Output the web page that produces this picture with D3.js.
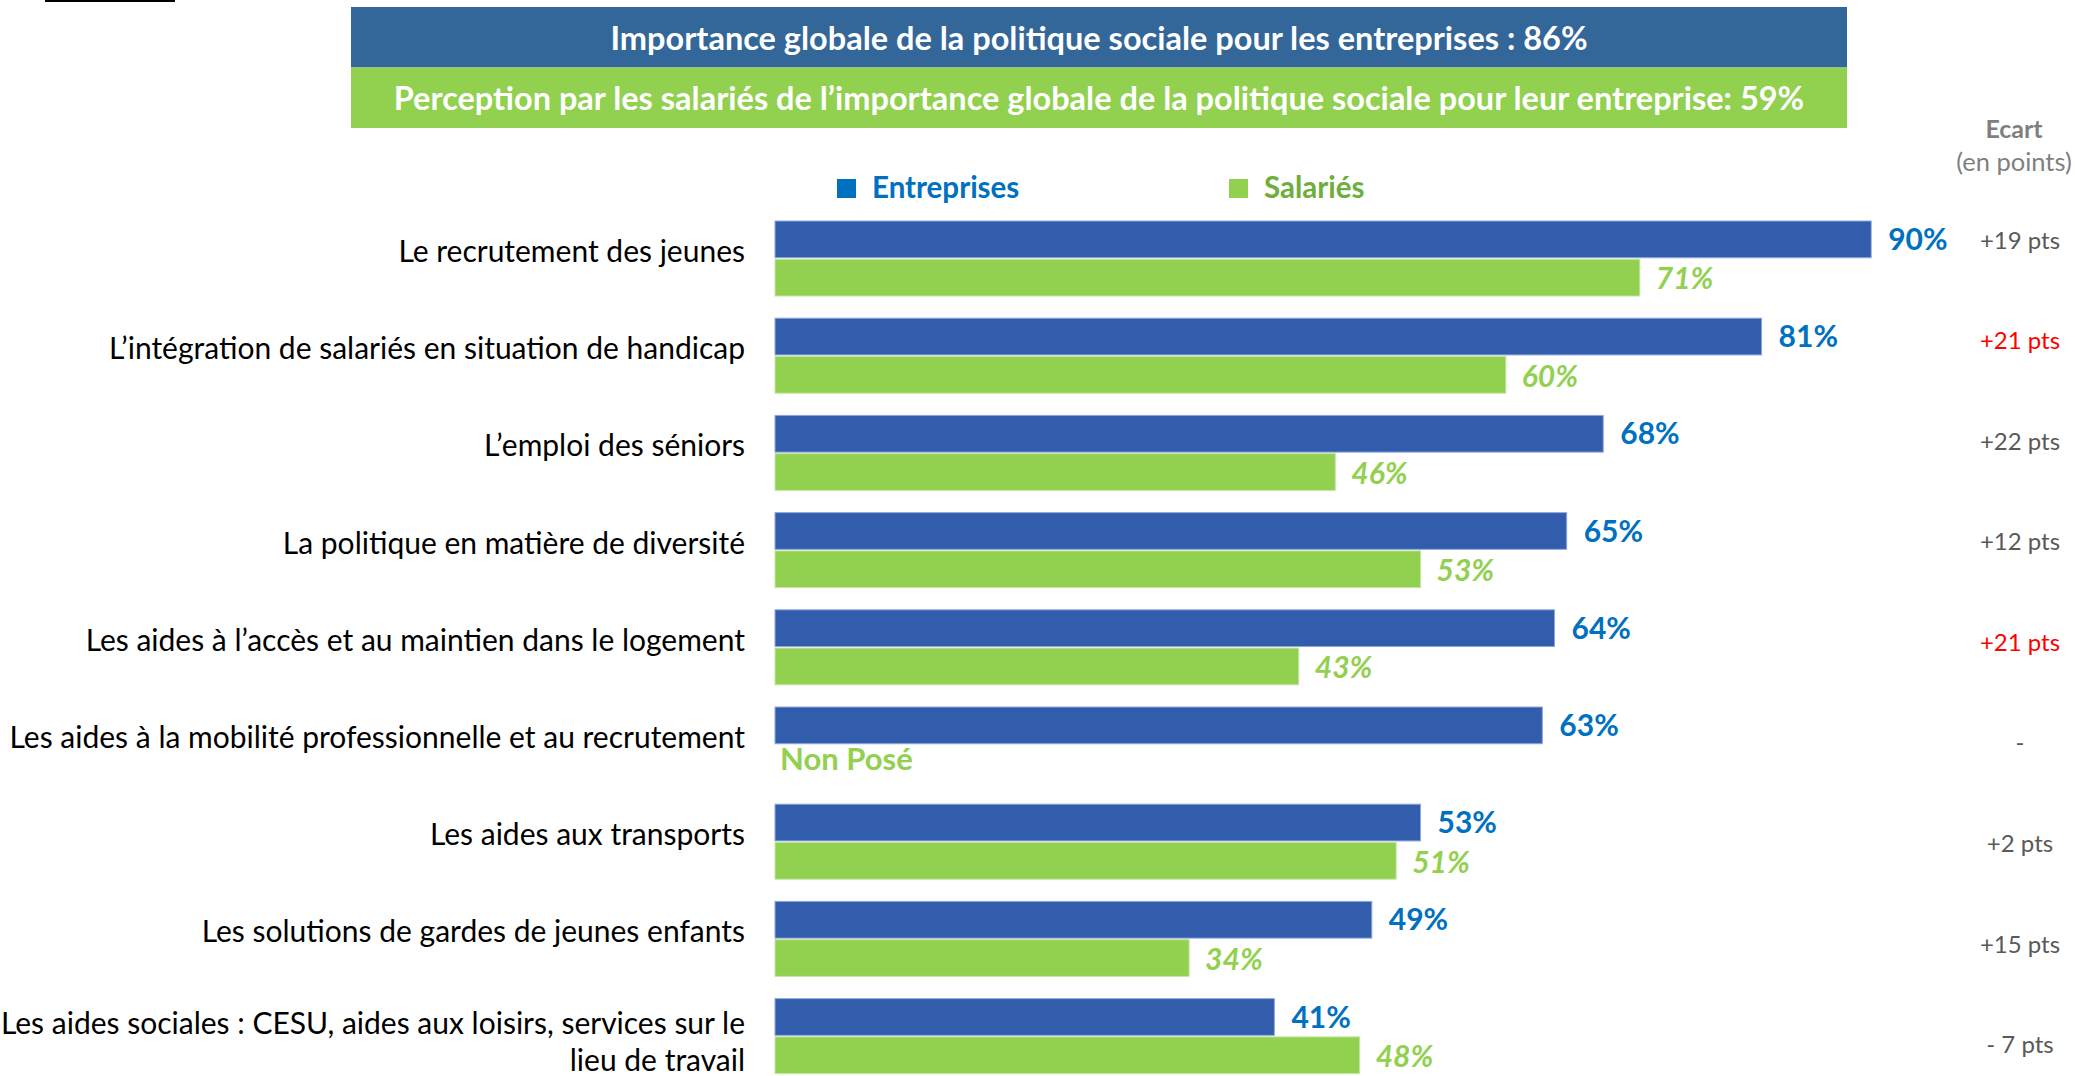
<!DOCTYPE html>
<html><head><meta charset="utf-8">
<script src="https://cdn.jsdelivr.net/npm/d3@7"></script>
<style>body{margin:0;background:#fff}svg{display:block}text{font-family:Lato,"Noto Sans",sans-serif}</style>
</head><body><svg id="c" width="2075" height="1076"></svg>
<script>
const categories = [
  "Le recrutement des jeunes",
  "L\u2019intégration de salariés en situation de handicap",
  "L\u2019emploi des séniors",
  "La politique en matière de diversité",
  "Les aides à l\u2019accès et au maintien dans le logement",
  "Les aides à la mobilité professionnelle et au recrutement",
  "Les aides aux transports",
  "Les solutions de gardes de jeunes enfants",
  "Les aides sociales : CESU, aides aux loisirs, services sur le\nlieu de travail"
];
const entreprises = [90, 81, 68, 65, 64, 63, 53, 49, 41];
const salaries = [71, 60, 46, 53, 43, null, 51, 34, 48];
const ecartLabels = ["+19 pts", "+21 pts", "+22 pts", "+12 pts", "+21 pts", "-", "+2 pts", "+15 pts", "- 7 pts"];
const ecartHighlight = [false, true, false, false, true, false, false, false, false];
const seriesNames = ["Entreprises", "Salariés"];
const headerTexts = [
  "Importance globale de la politique sociale pour les entreprises : 86%",
  "Perception par les salariés de l\u2019importance globale de la politique sociale pour leur entreprise: 59%"
];
const notAskedLabel = "Non Posé";
const ecartTitle = ["Ecart", "(en points)"];

const svg = d3.select("#c");
const C = {
  barBlue: "#325CAC", labelBlue: "#0070C0", green: "#92D050", legendGreen: "#6DAE3C",
  headBlue: "#336699", grey: "#595959", red: "#FF0000"
};

// decorative rule top-left
svg.append("rect").attr("x", 45).attr("y", 0).attr("width", 130).attr("height", 2).attr("fill", "#000");

// headers
const hy = d3.scaleBand().domain(headerTexts).range([7, 128]);
const headColors = [C.headBlue, C.green];
headerTexts.forEach((t, i) => {
  svg.append("rect").attr("x", 351).attr("y", hy(t)).attr("width", 1496).attr("height", hy.bandwidth())
    .attr("fill", headColors[i]);
  svg.append("text").attr("x", 1099).attr("y", hy(t) + hy.bandwidth() / 2 + 4)
    .attr("text-anchor", "middle").attr("dominant-baseline", "middle")
    .attr("fill", "#fff").attr("font-weight", 700).attr("font-size", 32.5).text(t);
});

// scales
const x = d3.scaleLinear().domain([0, 100]).range([775, 775 + 1218]);
const y = d3.scaleBand().domain(categories).range([221, 221 + 9 * 97.2]).paddingInner(0).paddingOuter(0);
const ys = d3.scaleBand().domain(seriesNames).range([0, 75]).paddingInner(0.04);
const yE = d3.scalePoint().domain(categories).range([242.5, 1047]);

// legend
const legendX = {"Entreprises": 837, "Salariés": 1229};
const legendSq = {"Entreprises": C.labelBlue, "Salariés": C.green};
const legendTx = {"Entreprises": C.labelBlue, "Salariés": C.legendGreen};
seriesNames.forEach(s => {
  svg.append("rect").attr("x", legendX[s]).attr("y", 179).attr("width", 19).attr("height", 19).attr("fill", legendSq[s]);
  svg.append("text").attr("x", legendX[s] + 35).attr("y", 190).attr("dominant-baseline", "middle")
    .attr("font-weight", 700).attr("font-size", 29.5).attr("fill", legendTx[s]).text(s);
});

// ecart header
ecartTitle.forEach((t, i) => {
  svg.append("text").attr("x", 2014).attr("y", 132 + i * 33).attr("text-anchor", "middle")
    .attr("dominant-baseline", "middle").attr("font-size", i === 0 ? 25 : 25.5).attr("font-weight", i === 0 ? 700 : 400)
    .attr("fill", "#7F7F7F").text(t);
});

const rows = categories.map((c, i) => ({c, e: entreprises[i], s: salaries[i], ec: ecartLabels[i], hi: ecartHighlight[i]}));
const g = svg.selectAll("g.row").data(rows).join("g").attr("class", "row");

// category labels
g.each(function(d) {
  const lines = d.c.split("\n");
  const cy = y(d.c) + 37.5 + (lines.length > 1 ? 9 : -4);
  const t = d3.select(this).append("text").attr("text-anchor", "end").attr("font-size", 30).attr("fill", "#000");
  lines.forEach((ln, k) => {
    t.append("tspan").attr("x", 745).attr("y", cy + (k - (lines.length - 1) / 2) * 37)
      .attr("dominant-baseline", "middle").text(ln);
  });
});

// entreprises bars
g.append("rect").attr("x", x(0)).attr("y", d => y(d.c) + ys("Entreprises"))
  .attr("width", d => x(d.e) - x(0)).attr("height", ys.bandwidth()).attr("fill", C.barBlue)
  .attr("stroke", "#8FA9DA").attr("stroke-width", 1);
g.append("text").attr("x", d => x(d.e) + 17).attr("y", d => y(d.c) + ys("Entreprises") + ys.bandwidth() / 2 + 3)
  .attr("dominant-baseline", "middle").attr("font-weight", 700).attr("font-size", 30).attr("fill", C.labelBlue)
  .text(d => d.e + "%");

// salariés bars
const gs = g.filter(d => d.s != null);
gs.append("rect").attr("x", x(0)).attr("y", d => y(d.c) + ys("Salariés"))
  .attr("width", d => x(d.s) - x(0)).attr("height", ys.bandwidth()).attr("fill", C.green)
  .attr("stroke", "#C5E5A5").attr("stroke-width", 1);
gs.append("text").attr("x", d => x(d.s) + 16).attr("y", d => y(d.c) + ys("Salariés") + ys.bandwidth() / 2 + 4)
  .attr("dominant-baseline", "middle").attr("font-weight", 700).attr("font-style", "italic").attr("font-size", 30)
  .attr("fill", C.green).text(d => d.s + "%");
g.filter(d => d.s == null).append("text").attr("x", x(0) + 5).attr("y", d => y(d.c) + ys("Salariés") + ys.bandwidth() / 2 - 2)
  .attr("dominant-baseline", "middle").attr("font-weight", 700).attr("font-size", 31).attr("fill", C.green)
  .text(notAskedLabel);

// ecart
g.append("text").attr("x", 2020).attr("y", d => yE(d.c)).attr("text-anchor", "middle").attr("dominant-baseline", "middle")
  .attr("font-size", 24).attr("fill", d => d.hi ? C.red : C.grey).text(d => d.ec);
</script></body></html>
